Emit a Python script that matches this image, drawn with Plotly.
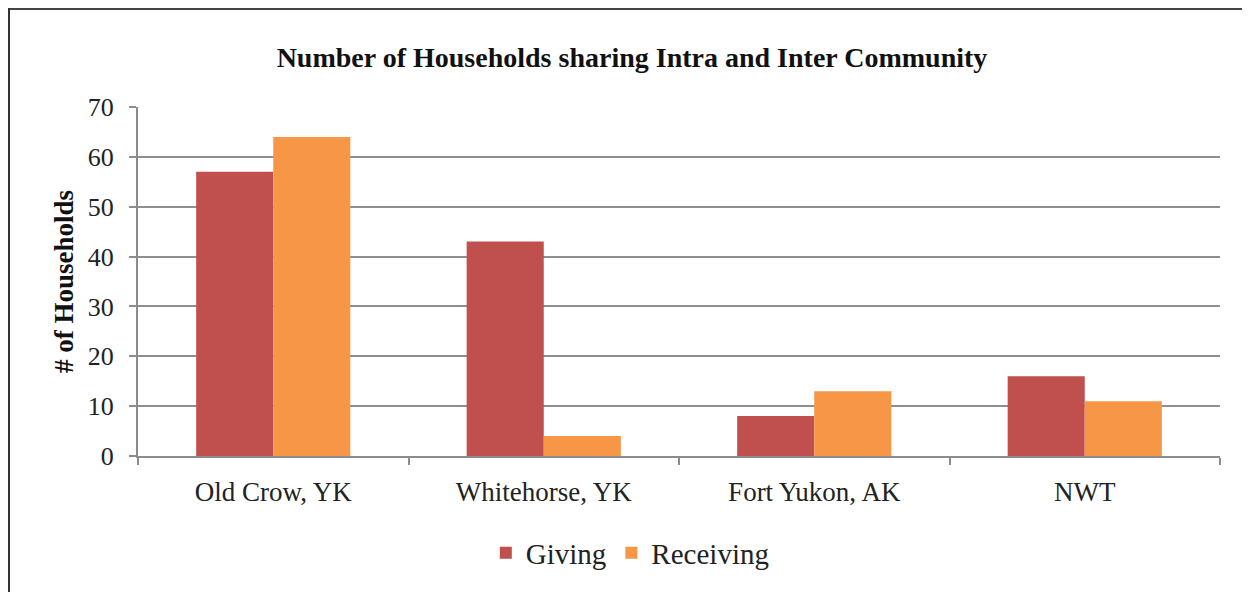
import plotly.graph_objects as go

categories = ["Old Crow, YK", "Whitehorse, YK", "Fort Yukon, AK", "NWT"]
giving = [57, 43, 8, 16]
receiving = [64, 4, 13, 11]
y_ticks = [0, 10, 20, 30, 40, 50, 60, 70]

SERIF = "Liberation Serif, Times New Roman, serif"

W, H = 1242, 584          # page body has an 8px margin
L, T, PW, PH = 130, 99, 1082, 349

fig = go.Figure()
fig.add_trace(go.Bar(name="Giving", x=categories, y=giving, marker_color="#C0504D",
                     marker_line_width=0))
fig.add_trace(go.Bar(name="Receiving", x=categories, y=receiving, marker_color="#F79646",
                     marker_line_width=0))

fig.update_layout(
    width=W, height=H,
    margin=dict(l=L, r=W - L - PW, t=T, b=H - T - PH, pad=0),
    paper_bgcolor="white", plot_bgcolor="white",
    barmode="group", bargap=0.43, bargroupgap=0,
    font=dict(family=SERIF, color="#1a1a1a"),
    title=dict(text="<b>Number of Households sharing Intra and Inter Community</b>",
               x=624 / W, xanchor="center", y=1 - 49 / H, yanchor="middle",
               font=dict(family=SERIF, size=28, color="#111111")),
    legend=dict(orientation="h", x=0.455, xanchor="center", y=-0.278, yanchor="middle",
                font=dict(family=SERIF, size=29, color="#222222"),
                itemwidth=30, tracegroupgap=0),
    showlegend=True,
)
fig.update_xaxes(
    type="category", showgrid=False, showline=True, linecolor="#8c8c8c", linewidth=2,
    ticks="outside", tickson="boundaries", ticklen=7, tickcolor="#8c8c8c", tickwidth=2,
    tickfont=dict(family=SERIF, size=27, color="#222222"), ticklabelstandoff=11,
)
fig.update_yaxes(
    range=[0, 70], tickvals=y_ticks, showgrid=True, gridcolor="#8f8f8f", gridwidth=2,
    showline=True, linecolor="#8c8c8c", linewidth=2, zeroline=False,
    ticks="outside", ticklen=7, tickcolor="#8c8c8c", tickwidth=2,
    tickfont=dict(family=SERIF, size=26, color="#222222"), ticklabelstandoff=10,
)
fig.add_annotation(text="<b># of Households</b>", textangle=-90, xref="paper", yref="paper",
                   x=(56 - L) / PW, y=(T + PH - 274) / PH, xanchor="center", yanchor="middle",
                   showarrow=False, font=dict(family=SERIF, size=27, color="#111111"))
# outer frame (top and left edges visible)
fig.add_shape(type="line", xref="paper", yref="paper",
              x0=(0 - L) / PW, x1=(W + 10 - L) / PW,
              y0=(T + PH - 0.5) / PH, y1=(T + PH - 0.5) / PH,
              line=dict(color="#444444", width=3))
fig.add_shape(type="line", xref="paper", yref="paper",
              x0=(0.5 - L) / PW, x1=(0.5 - L) / PW,
              y0=(T + PH) / PH, y1=(T + PH - H - 10) / PH,
              line=dict(color="#333333", width=3))

fig.write_html("out.html")
